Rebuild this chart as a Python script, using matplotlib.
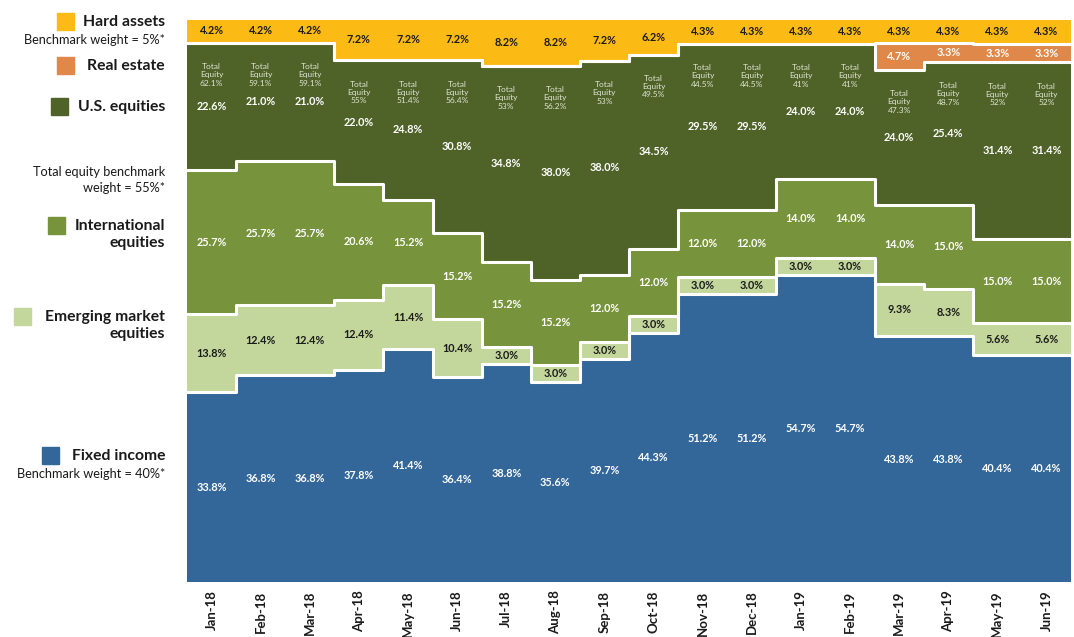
import numpy as np
import matplotlib.pyplot as plt

plt.rcParams['font.family'] = ['Lato', 'DejaVu Sans']

months = ['Jan-18', 'Feb-18', 'Mar-18', 'Apr-18', 'May-18', 'Jun-18', 'Jul-18', 'Aug-18', 'Sep-18',
          'Oct-18', 'Nov-18', 'Dec-18', 'Jan-19', 'Feb-19', 'Mar-19', 'Apr-19', 'May-19', 'Jun-19']
fixed_income = [33.8, 36.8, 36.8, 37.8, 41.4, 36.4, 38.8, 35.6, 39.7, 44.3, 51.2, 51.2, 54.7, 54.7, 43.8, 43.8, 40.4, 40.4]
emerging = [13.8, 12.4, 12.4, 12.4, 11.4, 10.4, 3.0, 3.0, 3.0, 3.0, 3.0, 3.0, 3.0, 3.0, 9.3, 8.3, 5.6, 5.6]
international = [25.7, 25.7, 25.7, 20.6, 15.2, 15.2, 15.2, 15.2, 12.0, 12.0, 12.0, 12.0, 14.0, 14.0, 14.0, 15.0, 15.0, 15.0]
us_equities = [22.6, 21.0, 21.0, 22.0, 24.8, 30.8, 34.8, 38.0, 38.0, 34.5, 29.5, 29.5, 24.0, 24.0, 24.0, 25.4, 31.4, 31.4]
real_estate = [0, 0, 0, 0, 0, 0, 0, 0, 0, 0, 0, 0, 0, 0, 4.7, 3.3, 3.3, 3.3]
hard_assets = [4.2, 4.2, 4.2, 7.2, 7.2, 7.2, 8.2, 8.2, 7.2, 6.2, 4.3, 4.3, 4.3, 4.3, 4.3, 4.3, 4.3, 4.3]
total_equity = ['62.1%', '59.1%', '59.1%', '55%', '51.4%', '56.4%', '53%', '56.2%', '53%',
                '49.5%', '44.5%', '44.5%', '41%', '41%', '47.3%', '48.7%', '52%', '52%']

layers = [fixed_income, emerging, international, us_equities, real_estate, hard_assets]
colors = ['#336699', '#C3D69B', '#77933C', '#4F6228', '#E0884A', '#FBBA14']
text_colors = ['white', '#1a1a1a', 'white', 'white', 'white', '#1a1a1a']

fig = plt.figure(figsize=(10.74, 6.37), dpi=100)
ax = fig.add_axes([187 / 1074, 0.086, 884 / 1074, 0.883])

n = len(months)
xe = np.arange(n + 1)
bottom = np.zeros(n)
for vals, c, tc in zip(layers, colors, text_colors):
    v = np.array(vals, dtype=float)
    top = bottom + v
    ax.fill_between(xe, np.append(bottom, bottom[-1]), np.append(top, top[-1]),
                    step='post', color=c, lw=0, zorder=1)
    if c != colors[-1]:
        ax.step(xe, np.append(top, top[-1]), where='post', color='white', lw=2.2, zorder=2)
    for i in range(n):
        if v[i] > 0:
            ax.text(i + 0.5, bottom[i] + v[i] / 2, f'{v[i]:.1f}%', ha='center', va='center',
                    color=tc, fontsize=7.8, fontweight='bold', zorder=3)
    bottom = top

# total equity notes near top of U.S. equities layer
us_top = np.array(fixed_income) + np.array(emerging) + np.array(international) + np.array(us_equities)
for i in range(n):
    ax.text(i + 0.5, us_top[i] - 5.7, 'Total\nEquity\n' + total_equity[i], ha='center', va='center',
            color='#dfe5d2', fontsize=6, linespacing=1.2, zorder=3)

ax.set_xlim(0, n)
ax.set_ylim(0, 100)
ax.set_xticks(np.arange(n) + 0.5)
ax.set_xticklabels(months, rotation=90, fontsize=9.5, fontweight='bold', color='#1a1a1a')
ax.tick_params(axis='x', length=0, pad=6)
ax.set_yticks([])
for s in ax.spines.values():
    s.set_visible(False)

# left-hand legend
def px(x, y):
    return x / 1074, 1 - y / 637

legend_items = [
    ('Hard assets', colors[5], 57, 21, 'Benchmark weight = 5%*'),
    ('Real estate', colors[4], 57, 65, None),
    ('U.S. equities', colors[3], 51, 106, None),
    ('International\nequities', colors[2], 48, 225, None),
    ('Emerging market\nequities', colors[1], 14, 316, None),
    ('Fixed income', colors[0], 42, 455, 'Benchmark weight = 40%*'),
]
for label, c, sx, sy, note in legend_items:
    x0, y0 = px(sx, sy - 8)
    fig.patches.append(plt.Rectangle((x0, y0 - 17 / 637), 17 / 1074, 17 / 637,
                                     transform=fig.transFigure, color=c))
    for k, line in enumerate(label.split('\n')):
        fig.text(*px(165, sy + 17 * k + 1), line, ha='right', va='center', fontsize=11.3,
                 fontweight='bold', color='#1a1a1a')
    if note:
        fig.text(*px(165, sy + 19), note, ha='right', va='center', fontsize=9.2, color='#1a1a1a')

fig.text(*px(165, 172), 'Total equity benchmark', ha='right', va='center', fontsize=9.2, color='#1a1a1a')
fig.text(*px(165, 188), 'weight = 55%*', ha='right', va='center', fontsize=9.2, color='#1a1a1a')

fig.savefig('out.png', dpi=100)
